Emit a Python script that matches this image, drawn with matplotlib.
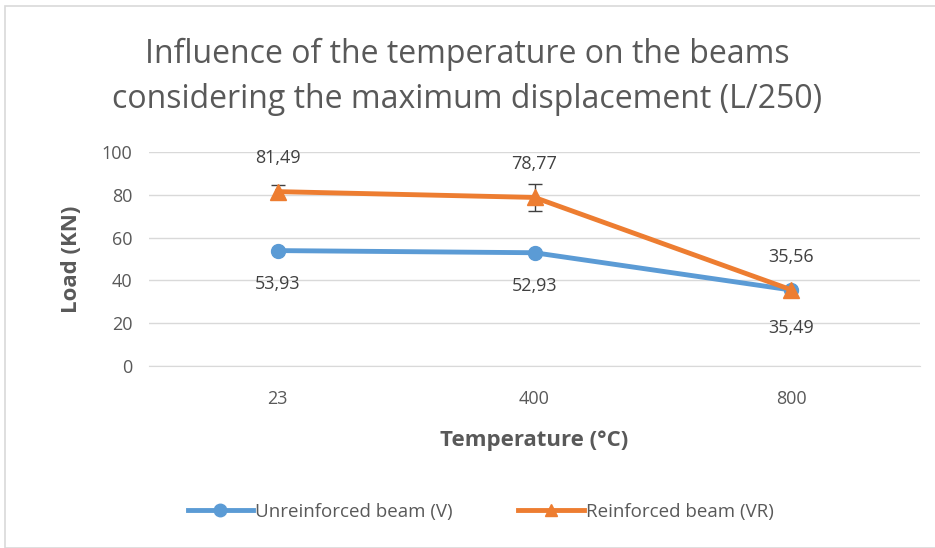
import numpy as np
import matplotlib.pyplot as plt
from matplotlib.lines import Line2D

plt.rcParams['font.family'] = ['Open Sans', 'DejaVu Sans']

temps = ['23', '400', '800']
unreinforced = [53.93, 52.93, 35.49]
reinforced = [81.49, 78.77, 35.56]
reinforced_err = [3.0, 6.3, 0.0]

blue = '#5B9BD5'
orange = '#ED7D31'
txt = '#595959'

fig = plt.figure(figsize=(9.35, 5.48), dpi=100)
ax = fig.add_axes([149 / 935, 1 - 366 / 548, 771 / 935, 214 / 548])

x = np.arange(len(temps))
ax.plot(x, unreinforced, color=blue, lw=3.5, marker='o', ms=10, zorder=3)
ax.plot(x, reinforced, color=orange, lw=3.5, marker='^', ms=11, zorder=5)
# error bars only where there is a spread, drawn behind the orange markers
has_err = [i for i, e in enumerate(reinforced_err) if e > 0]
ax.errorbar(x[has_err], [reinforced[i] for i in has_err], yerr=[reinforced_err[i] for i in has_err],
            fmt='none', ecolor='#404040', elinewidth=1, capsize=5, zorder=4)

for i, v in enumerate(unreinforced):
    off = -24 if i < 2 else -27
    ax.annotate(f'{v:.2f}'.replace('.', ','), (x[i], v), xytext=(0, off), textcoords='offset points',
                ha='center', va='center', fontsize=13, color='#404040')
for i, v in enumerate(reinforced):
    ax.annotate(f'{v:.2f}'.replace('.', ','), (x[i], v), xytext=(0, 24), textcoords='offset points',
                ha='center', va='center', fontsize=13, color='#404040')

ax.set_xlim(-0.5, 2.5)
ax.set_ylim(0, 100)
ax.set_yticks(np.arange(0, 101, 20))
ax.set_xticks(x)
ax.set_xticklabels(temps)
ax.tick_params(axis='x', length=0, labelsize=13, colors=txt, pad=17)
ax.tick_params(axis='y', length=0, labelsize=13, colors=txt, pad=12)
ax.grid(axis='y', color='#D9D9D9', lw=1)
ax.set_axisbelow(True)
for s in ['top', 'right', 'left']:
    ax.spines[s].set_visible(False)
ax.spines['bottom'].set_color('#D9D9D9')

ax.set_xlabel('Temperature (°C)', fontsize=16, fontweight='bold', color=txt, labelpad=16)
ax.set_ylabel('Load (KN)', fontsize=16, fontweight='bold', color=txt, labelpad=14)

fig.text(0.5, 1 - 77 / 548, 'Influence of the temperature on the beams\nconsidering the maximum displacement (L/250)',
         ha='center', va='center', fontsize=23, color=txt, linespacing=1.5)

handles = [Line2D([], [], color=blue, lw=3.5, marker='o', ms=9),
           Line2D([], [], color=orange, lw=3.5, marker='^', ms=9)]
fig.legend(handles, ['Unreinforced beam (V)', 'Reinforced beam (VR)'], loc='center',
           bbox_to_anchor=(0.514, 1 - 512 / 548), ncol=2, frameon=False,
           fontsize=13.5, labelcolor=txt, handlelength=3.5, handletextpad=0.1, columnspacing=3.5)

fig.patches.append(plt.Rectangle((5 / 935, 0), 1, 1 - 6 / 548, transform=fig.transFigure,
                                 fill=False, edgecolor='#D9D9D9', lw=1.2))

fig.savefig('out.png', dpi=100)
